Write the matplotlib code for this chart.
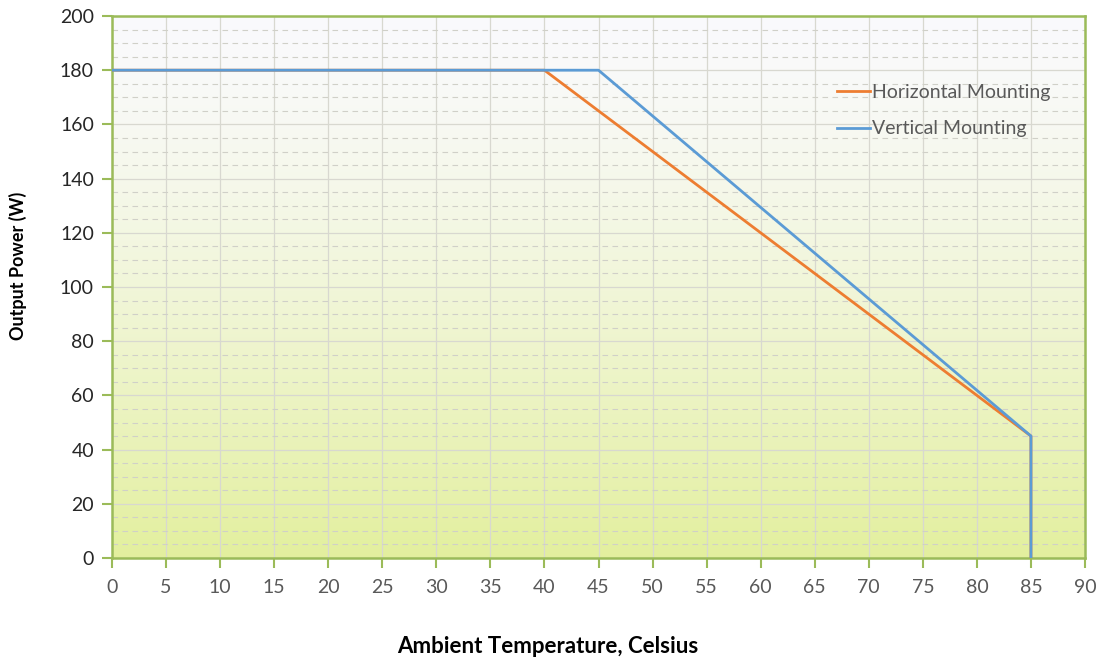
import matplotlib.pyplot as plt
import numpy as np

plt.rcParams['font.family'] = ['Lato', 'DejaVu Sans']

temp_h = [0, 40, 85, 85]
power_h = [180, 180, 45, 0]
temp_v = [0, 45, 85, 85]
power_v = [180, 180, 45, 0]

x_ticks = list(range(0, 95, 5))
y_ticks = list(range(0, 220, 20))

fig = plt.figure(figsize=(11.02, 6.58), dpi=100)
ax = fig.add_axes([112/1102, 1 - 558/658, (1085-112)/1102, (558-16)/658])

# gradient background: near white at top, yellow-green at bottom
grad = np.linspace(0, 1, 256).reshape(-1, 1)
top = np.array([0.98, 0.98, 0.99])
bot = np.array([0.89, 0.94, 0.62])
img = top + (bot - top) * grad[..., None] ** 1.4
ax.imshow(img, extent=[0, 90, 0, 200], aspect='auto', zorder=0, origin='upper')

ax.set_xlim(0, 90)
ax.set_ylim(0, 200)
ax.set_xticks(x_ticks)
ax.set_yticks(y_ticks)
ax.set_yticks(np.arange(0, 201, 5), minor=True)
ax.tick_params(axis='y', which='minor', length=0)
ax.grid(True, which='major', color='#d8d8d0', linewidth=0.9, zorder=1)
ax.grid(True, which='minor', axis='y', color='#d0d0c8', linewidth=0.8, linestyle=(0, (5, 4)), zorder=1)

ax.plot(temp_h, power_h, color='#ED7D31', linewidth=2, label='Horizontal Mounting', zorder=3)
ax.plot(temp_v, power_v, color='#5B9BD5', linewidth=2, label='Vertical Mounting', zorder=4)

for s in ax.spines.values():
    s.set_color('#9bbb59')
    s.set_linewidth(1.8)
ax.tick_params(axis='both', which='major', direction='out', length=7, width=1.5, color='#9bbb59', labelsize=14)
ax.tick_params(axis='x', labelcolor='#595959', pad=8)
ax.tick_params(axis='y', labelcolor='#262626', pad=6)

ax.set_xlabel('Ambient Temperature, Celsius', fontsize=16, fontweight='bold')
ax.xaxis.set_label_coords(0.448, -0.143)
ax.set_ylabel('Output Power (W)', fontsize=13, fontweight='bold')
ax.yaxis.set_label_coords(-0.087, 0.539)

leg = ax.legend(loc='upper left', bbox_to_anchor=(0.727, 0.907), frameon=False, fontsize=14,
                handlelength=1.7, handletextpad=0.1, labelspacing=1.0)
for t in leg.get_texts():
    t.set_color('#595959')

fig.savefig('out.png', dpi=100)
